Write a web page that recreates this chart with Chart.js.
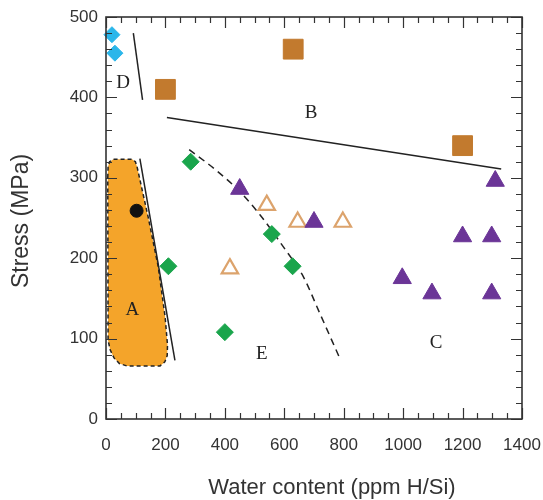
<!DOCTYPE html>
<html>
<head>
<meta charset="utf-8">
<script src="https://cdn.jsdelivr.net/npm/chart.js@4.4.0/dist/chart.umd.min.js"></script>
<style>
  html, body { margin: 0; padding: 0; background: #fff; }
  #wrap { width: 543px; height: 500px; }
</style>
</head>
<body>
<div id="wrap"><canvas id="stressChart" width="543" height="500"></canvas></div>
<script>
// ---------- data ----------

// axis ticks
const xTicks = [0, 200, 400, 600, 800, 1000, 1200, 1400];
const yTicks = [0, 100, 200, 300, 400, 500];
const xMinorStep = 50;
const yMinorStep = 20;

// symbols (water content, stress)
const cyanDiamonds = [[20, 478], [30, 455]];
const brownSquares = [[200, 410], [630, 460], [1200, 340]];
const blackCircle = [[103, 259]];
const greenDiamonds = [[285, 320], [210, 190], [558, 230], [628, 190], [400, 108]];
const purpleTriangles = [[450, 286], [700, 245], [1310, 296], [1200, 227], [1298, 227],
                         [997, 175], [1097, 156], [1298, 156]];
const openTriangles = [[541, 266], [645, 245], [797, 245], [417, 187]];

// field boundaries
const lineD = [[92, 480], [123, 397]];
const lineB = [[205, 375], [1330, 311]];
const lineA = [[114, 324], [232, 73]];
const curveE = [[280, 335], [372, 309], [450, 283], [518, 254], [597, 214],
                [664, 177], [720, 131], [785, 77]];

// outline of field A (orange)
const fieldA = [[6, 300], [7, 314], [12, 320], [25, 323], [88, 323], [99, 320], [105, 313],
                [142, 251], [176, 189], [199, 127], [207, 92], [206, 79], [198, 71],
                [182, 66], [70, 66], [45, 69], [27, 76], [14, 86], [7, 98], [6, 300]];

// field letters
const fieldNames = ["A", "B", "C", "D", "E"];
const fieldX = [89, 690, 1111, 58, 524];
const fieldY = [135, 380, 94, 418, 81];

// ---------- helpers ----------

function pts(arr) {
    return arr.map(([x, y]) => ({ x, y }));
}

const frameColor = "#333";

// inward ticks on all four sides + box
const framePlugin = {
    id: "frame",
    afterDatasetsDraw(chart) {
        const { ctx, chartArea: a, scales } = chart;
        const xs = scales.x, ys = scales.y;
        ctx.save();
        ctx.strokeStyle = frameColor;
        ctx.lineWidth = 1.2;
        ctx.beginPath();
        for (let v = xTicks[0]; v <= xTicks[xTicks.length - 1]; v += xMinorStep) {
            const px = Math.round(xs.getPixelForValue(v)) + 0.5;
            const len = xTicks.includes(v) ? 11 : 6;
            ctx.moveTo(px, a.bottom); ctx.lineTo(px, a.bottom - len);
            ctx.moveTo(px, a.top); ctx.lineTo(px, a.top + len);
        }
        for (let v = yTicks[0]; v <= yTicks[yTicks.length - 1]; v += yMinorStep) {
            const py = Math.round(ys.getPixelForValue(v)) + 0.5;
            const len = yTicks.includes(v) ? 11 : 6;
            ctx.moveTo(a.left, py); ctx.lineTo(a.left + len, py);
            ctx.moveTo(a.right, py); ctx.lineTo(a.right - len, py);
        }
        ctx.stroke();
        ctx.lineWidth = 1.6;
        ctx.strokeRect(a.left, a.top, a.right - a.left, a.bottom - a.top);

        // field letters
        ctx.fillStyle = "#222";
        ctx.font = '19px "Liberation Serif", "DejaVu Serif", serif';
        ctx.textAlign = "center";
        ctx.textBaseline = "middle";
        fieldNames.forEach((t, i) => {
            ctx.fillText(t, xs.getPixelForValue(fieldX[i]), ys.getPixelForValue(fieldY[i]));
        });

        // axis titles
        ctx.fillStyle = "#333";
        ctx.font = '22px "Liberation Sans", Arial, sans-serif';
        ctx.fillText("Water content (ppm H/Si)", (a.left + a.right) / 2 + 18, 488);
        ctx.font = '23px "Liberation Sans", Arial, sans-serif';
        ctx.translate(22, (a.top + a.bottom) / 2 + 3);
        ctx.rotate(-Math.PI / 2);
        ctx.fillText("Stress (MPa)", 0, 0);
        ctx.restore();
    },
};

const solidLine = {
    type: "line",
    showLine: true,
    borderColor: "#222",
    borderWidth: 1.5,
    pointRadius: 0,
    fill: false,
    order: 5,
};

const ctx = document.getElementById("stressChart").getContext("2d");
new Chart(ctx, {
    type: "scatter",
    data: {
        datasets: [
            {
                label: "cyan",
                data: pts(cyanDiamonds),
                pointStyle: "rectRot",
                pointRadius: 8,
                backgroundColor: "#2bb6ea",
                borderColor: "#2bb6ea",
                borderWidth: 1,
                clip: false,
                order: 0,
            },
            {
                label: "squares",
                data: pts(brownSquares),
                pointStyle: "rect",
                pointRadius: 14,
                backgroundColor: "#c27a2e",
                borderColor: "#c27a2e",
                borderWidth: 1,
                clip: false,
                order: 0,
            },
            {
                label: "green",
                data: pts(greenDiamonds),
                pointStyle: "rectRot",
                pointRadius: 8.5,
                backgroundColor: "#1aa54c",
                borderColor: "#1aa54c",
                borderWidth: 1,
                clip: false,
                order: 0,
            },
            {
                label: "purple",
                data: pts(purpleTriangles),
                pointStyle: "triangle",
                pointRadius: 10.5,
                backgroundColor: "#6b3597",
                borderColor: "#6b3597",
                borderWidth: 1,
                clip: false,
                order: 0,
            },
            {
                label: "open",
                data: pts(openTriangles),
                pointStyle: "triangle",
                pointRadius: 9.5,
                backgroundColor: "rgba(0,0,0,0)",
                borderColor: "#dca36c",
                borderWidth: 2.2,
                clip: false,
                order: 0,
            },
            {
                label: "circle",
                data: pts(blackCircle),
                pointStyle: "circle",
                pointRadius: 6.5,
                backgroundColor: "#111",
                borderColor: "#111",
                order: 1,
            },
            { ...solidLine, label: "D", data: pts(lineD) },
            { ...solidLine, label: "B", data: pts(lineB) },
            { ...solidLine, label: "A", data: pts(lineA) },
            {
                ...solidLine,
                label: "E",
                data: pts(curveE),
                borderDash: [7, 5],
                cubicInterpolationMode: "monotone",
            },
            {
                type: "line",
                label: "field A",
                data: pts(fieldA),
                showLine: true,
                fill: "shape",
                backgroundColor: "#f4a42a",
                borderColor: "#222",
                borderWidth: 1.5,
                borderDash: [4, 3],
                pointRadius: 0,
                tension: 0,
                order: 10,
            },
        ],
    },
    options: {
        responsive: false,
        animation: false,
        devicePixelRatio: 1,
        layout: { padding: { top: 17, right: 21, left: 0, bottom: 0 } },
        plugins: {
            legend: { display: false },
            tooltip: { enabled: false },
        },
        scales: {
            x: {
                type: "linear",
                min: 0,
                max: 1400,
                afterBuildTicks: (s) => { s.ticks = xTicks.map((v) => ({ value: v })); },
                afterFit: (s) => { s.height = 81; s.paddingLeft = 0; s.paddingRight = 0; },
                grid: { display: false, drawTicks: false },
                border: { display: false },
                ticks: {
                    padding: 16,
                    color: "#333",
                    font: { family: '"Liberation Sans", Arial, sans-serif', size: 17 },
                    callback: (v) => String(v),
                },
            },
            y: {
                type: "linear",
                min: 0,
                max: 500,
                afterBuildTicks: (s) => { s.ticks = yTicks.map((v) => ({ value: v })); },
                afterFit: (s) => { s.width = 106; s.paddingTop = 0; s.paddingBottom = 0; },
                grid: { display: false, drawTicks: false },
                border: { display: false },
                ticks: {
                    padding: 8,
                    color: "#333",
                    font: { family: '"Liberation Sans", Arial, sans-serif', size: 17 },
                    callback: (v) => String(v),
                },
            },
        },
    },
    plugins: [framePlugin],
});
</script>
</body>
</html>
